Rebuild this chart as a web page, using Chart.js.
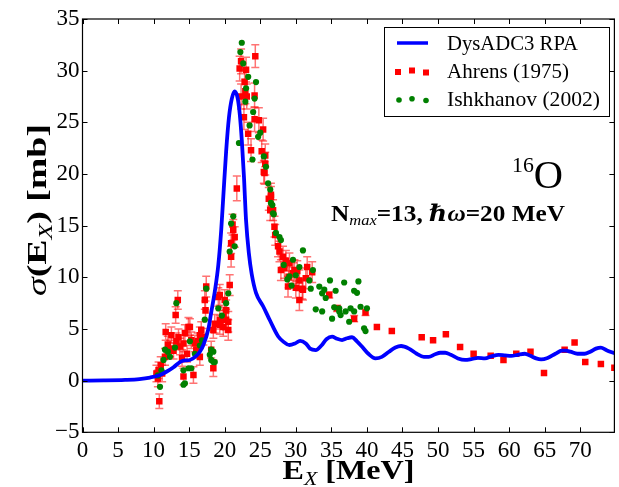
<!DOCTYPE html>
<html>
<head>
<meta charset="utf-8">
<script src="https://cdn.jsdelivr.net/npm/chart.js@4.4.1/dist/chart.umd.min.js"></script>
<style>
  html, body { margin: 0; padding: 0; background: #fff; }
  canvas { display: block; }
</style>
</head>
<body>
<canvas id="chart" width="619" height="487"></canvas>
<script>
// DysADC3 RPA response (E in MeV, sigma in mb)
const rpaE = [0, 3, 6, 8, 9.5, 10.9, 11.8, 12.8, 13.7, 14.4, 15.1, 16.0, 16.5, 17.0, 17.7, 18.1, 18.6, 19.1, 19.5, 19.8,
  20.2, 20.6, 21.0, 21.4, 21.8, 22.1, 22.4, 22.7, 23.0, 23.4, 23.8, 24.4, 25.4, 26.1, 26.8, 27.5, 28.2, 29.1, 29.9, 30.6,
  31.4, 32.0, 32.8, 33.6, 34.3, 35.1, 35.8, 36.5, 37.2, 37.9, 38.6, 39.3, 40.2, 41.2, 42.1, 43.1, 44.0, 44.8, 45.9, 47.0,
  48.0, 48.7, 49.6, 50.3, 51.0, 51.8, 52.8, 53.8, 54.8, 55.6, 56.6, 57.5, 58.5, 59.4, 60.3, 61.2, 62.2, 63.0, 63.8, 64.5,
  65.4, 66.5, 67.4, 68.0, 68.6, 69.6, 70.6, 71.4, 72.2, 72.9, 73.7, 74.8];
const rpaSigma = [0, 0.02, 0.07, 0.15, 0.3, 0.55, 0.86, 1.3, 1.8, 1.95, 2.0, 2.4, 2.8, 3.45, 5.0, 6.6, 8.6, 11.2, 14.5, 17.8,
  22.2, 25.5, 27.3, 28.0, 27.4, 25.9, 23.3, 19.8, 15.5, 12.3, 10.3, 8.5, 7.2, 6.2, 5.2, 4.3, 3.8, 3.45, 3.6, 3.85,
  3.6, 3.1, 2.96, 3.4, 4.0, 4.25, 4.05, 3.93, 4.1, 4.2, 3.8, 3.3, 2.6, 2.16, 2.3, 2.8, 3.2, 3.35, 3.1, 2.6,
  2.3, 2.3, 2.55, 2.7, 2.7, 2.5, 2.15, 2.0, 2.1, 2.2, 2.16, 2.35, 2.5, 2.45, 2.4, 2.5, 2.6, 2.4, 2.15, 2.06,
  2.2, 2.6, 2.9, 2.9, 2.8, 2.6, 2.6, 2.8, 3.1, 3.2, 2.95, 2.64];

// Ahrens (1975): energy, cross section, error
const ahrensE = [10.4, 10.7, 10.8, 11.2, 10.6, 11.0, 11.6, 11.7, 12.0, 12.3, 12.5, 12.8, 13.1, 13.4, 13.2, 13.5, 13.7, 14.0,
  14.2, 14.2, 14.4, 14.7, 14.9, 15.1, 15.3, 15.6, 15.8, 16.0, 16.2, 16.5, 16.5, 16.7, 17.0, 17.2, 17.3, 17.4, 18.1, 18.4,
  18.4, 18.6, 19.1, 19.3, 19.3, 19.3, 19.8, 19.8, 20.0, 20.2, 20.2, 20.5, 20.5, 20.7,
  20.9, 20.9, 21.2, 21.4, 21.1, 21.7,
  22.1, 22.3, 23.0, 24.3, 22.8, 22.9, 23.1, 22.3, 24.2, 22.7, 24.2, 24.8, 25.4, 23.3, 23.7, 25.2, 25.7, 25.5, 25.7, 26.5,
  26.2, 26.4, 25.6,
  26.5, 26.8, 27.0, 27.1, 27.5, 27.7, 28.2, 27.9, 29.1, 29.6, 28.9, 30.5, 30.9, 31.6, 30.5, 29.8, 28.4, 31.4, 29.0, 30.0,
  28.6, 30.2, 31.0, 32.3,
  34.7, 35.8, 38.2, 39.8, 41.4, 43.5, 47.7, 49.3, 51.1, 53.1, 55.0, 57.4, 59.2, 61.0, 63.0, 64.9, 67.8, 69.2, 70.7, 72.9, 74.8];
const ahrensSigma = [0.7, 1.0, -2.0, 0.7, 0.2, 1.5, 2.3, 4.7, 3.5, 3.1, 4.4, 2.9, 6.35, 7.8, 3.8, 4.2, 3.3, 2.2,
  3.6, 0.4, 4.6, 2.6, 5.2, 5.2, 3.9, 0.54, 3.6, 3.0, 3.8, 4.4, 2.3, 4.9, 4.25, 7.8, 6.8, 9.1, 3.0, 1.2,
  4.9, 5.5, 8.1, 5.9, 8.3, 5.4, 5.2, 6.2, 7.8, 5.9, 6.8, 5.7, 4.9, 9.25,
  12.0, 13.3, 14.6, 13.9, 15.1, 18.6,
  30.2, 30.9, 30.1, 31.4, 28.9, 28.0, 27.5, 27.5, 27.6, 25.5, 25.3, 25.2, 24.3, 23.9, 22.3, 22.2, 21.8, 20.2, 21.0, 18.0,
  17.6, 16.5, 20.1,
  17.8, 16.5, 14.9, 14.1, 13.0, 12.5, 12.0, 10.7, 11.35, 10.4, 9.1, 9.7, 8.9, 11.0, 7.8, 10.7, 10.9, 9.9, 10.0, 9.0,
  11.6, 10.6, 8.8, 10.5,
  8.3, 7.0, 6.0, 6.6, 5.2, 4.8, 4.2, 3.9, 4.5, 3.25, 2.6, 2.4, 2.0, 2.6, 2.8, 0.75, 3.0, 3.7, 1.8, 1.6, 1.25];
const ahrensErr = [0.8, 0.8, 0.7, 0.8, 0.8, 0.8, 0.8, 0.8, 0.8, 0.8, 0.8, 0.8, 0.8, 0.9, 0.8, 0.8, 0.8, 0.8,
  0.8, 0.8, 0.8, 0.8, 0.9, 0.8, 0.8, 0.8, 0.8, 0.8, 0.8, 0.8, 0.8, 0.8, 0.8, 0.9, 0.9, 1.0, 0.8, 0.8,
  0.8, 0.9, 0.9, 0.9, 1.0, 0.9, 0.9, 0.9, 1.0, 1.0, 1.0, 1.0, 1.0, 1.0,
  1.0, 1.0, 1.0, 1.0, 1.0, 1.2,
  1.2, 1.2, 1.2, 1.1, 1.2, 1.2, 1.2, 1.2, 1.2, 1.2, 1.2, 1.2, 1.1, 1.1, 1.1, 1.1, 1.1, 1.1, 1.1, 1.1,
  1.1, 1.0, 1.1,
  1.0, 1.0, 1.0, 1.0, 1.0, 1.0, 1.0, 1.0, 1.0, 1.0, 1.0, 1.0, 1.0, 1.0, 1.0, 1.0, 1.0, 1.0, 1.0, 1.0,
  1.0, 1.0, 1.0, 1.0,
  0.3, 0.3, 0.3, 0.3, 0, 0, 0, 0, 0, 0, 0, 0, 0, 0, 0, 0, 0, 0, 0, 0, 0];

// Ishkhanov (2002)
const ishkE = [10.6, 10.9, 11.1, 11.4, 11.6, 12.0, 12.3, 13.0, 13.2, 14.2, 14.2, 14.4, 14.9, 15.1, 15.3, 15.8, 16.5, 16.8,
  17.2, 17.4, 17.9, 18.1, 18.1, 18.4, 18.4, 18.6, 19.1, 19.6, 20.2, 20.5,
  20.7, 20.9, 21.2, 21.4, 22.0,
  22.4, 22.2, 22.6, 23.3, 24.4, 24.2, 22.9, 23.5, 24.7, 23.9, 25.5, 25.8, 26.1, 26.4, 26.7, 26.9, 24.0, 23.0, 25.0,
  26.5, 26.8, 27.2, 27.7, 27.9, 29.6, 30.5, 29.1, 28.3, 28.8, 30.0, 29.4, 31.0, 32.4, 32.1, 31.9,
  33.3, 34.0, 33.7, 34.2, 34.8, 35.6, 36.8, 38.2, 38.8, 38.6, 32.8, 33.7, 35.1, 35.4, 36.3, 37.0, 37.7, 37.5, 39.1, 40.0,
  39.6, 39.8, 36.1, 38.2, 36.1];
const ishkSigma = [0.5, -0.6, 1.0, 2.0, 3.0, 2.8, 2.3, 3.2, 7.5, 1.0, -0.4, -0.26, 1.2, 3.8, 1.2, 2.6, 3.4, 3.9,
  5.9, 8.9, 2.5, 2.0, 3.0, 1.8, 2.8, 1.8, 7.0, 6.3, 7.5, 8.45,
  12.5, 15.2, 15.9, 13.0, 23.0,
  32.7, 31.8, 30.7, 29.4, 28.9, 27.3, 27.0, 24.7, 23.6, 21.4, 21.7, 20.7, 19.1, 18.5, 17.0, 16.1, 26.0, 28.3, 24.0,
  17.2, 16.2, 14.3, 13.9, 13.6, 11.7, 11.0, 10.1, 11.2, 9.8, 10.2, 9.2, 12.6, 10.7, 8.9, 9.7,
  9.1, 8.8, 8.45, 8.0, 9.7, 8.7, 9.5, 8.7, 9.6, 8.5, 6.9, 6.7, 6.0, 7.1, 6.35, 6.7, 7.0, 5.7, 7.15, 7.0,
  5.06, 4.8, 7.0, 6.7, 6.7];

const xTicks = [0, 5, 10, 15, 20, 25, 30, 35, 40, 45, 50, 55, 60, 65, 70];
const yTicks = [-5, 0, 5, 10, 15, 20, 25, 30, 35];

const SERIF = '"Liberation Serif", "DejaVu Serif", serif';

const toXY = (xs, ys) => xs.map((x, i) => ({ x: x, y: ys[i] }));

// draw a run of text pieces with different fonts / offsets, optionally stretched to a width
function richText(ctx, x, y, parts, align, targetW) {
    let total = 0;
    parts.forEach(p => { ctx.font = p.font; p.w = ctx.measureText(p.t).width; total += p.w; });
    const sx = targetW ? targetW / total : 1;
    const w = total * sx;
    const start = align === 'center' ? x - w / 2 : (align === 'right' ? x - w : x);
    ctx.save();
    ctx.translate(start, y);
    ctx.scale(sx, 1);
    let cx = 0;
    parts.forEach(p => {
        ctx.font = p.font;
        ctx.fillText(p.t, cx, p.dy || 0);
        cx += p.w;
    });
    ctx.restore();
}

const errorBars = {
    id: 'errorBars',
    beforeDatasetsDraw(chart) {
        const { ctx, chartArea, scales } = chart;
        ctx.save();
        ctx.beginPath();
        ctx.rect(chartArea.left, chartArea.top, chartArea.right - chartArea.left, chartArea.bottom - chartArea.top);
        ctx.clip();
        ctx.strokeStyle = 'rgba(255, 0, 0, 0.55)';
        ctx.lineWidth = 1.5;
        ahrensE.forEach((e, i) => {
            const err = ahrensErr[i];
            if (!err) return;
            const px = scales.x.getPixelForValue(e);
            const y1 = scales.y.getPixelForValue(ahrensSigma[i] - err);
            const y2 = scales.y.getPixelForValue(ahrensSigma[i] + err);
            ctx.beginPath();
            ctx.moveTo(px, y1); ctx.lineTo(px, y2);
            ctx.moveTo(px - 4, y1); ctx.lineTo(px + 4, y1);
            ctx.moveTo(px - 4, y2); ctx.lineTo(px + 4, y2);
            ctx.stroke();
        });
        ctx.restore();
    }
};

const frameAndText = {
    id: 'frameAndText',
    afterDraw(chart) {
        const { ctx, chartArea: a, scales } = chart;
        ctx.save();
        // frame
        ctx.strokeStyle = '#000';
        ctx.lineWidth = 1.2;
        ctx.strokeRect(a.left, a.top, a.right - a.left, a.bottom - a.top);
        // inward ticks on all four sides
        ctx.lineWidth = 1;
        ctx.beginPath();
        xTicks.forEach(v => {
            const px = Math.round(scales.x.getPixelForValue(v)) + 0.5;
            ctx.moveTo(px, a.bottom); ctx.lineTo(px, a.bottom - 5);
            ctx.moveTo(px, a.top); ctx.lineTo(px, a.top + 5);
        });
        yTicks.forEach(v => {
            const py = Math.round(scales.y.getPixelForValue(v)) + 0.5;
            ctx.moveTo(a.left, py); ctx.lineTo(a.left + 5, py);
            ctx.moveTo(a.right, py); ctx.lineTo(a.right - 5, py);
        });
        ctx.stroke();

        ctx.fillStyle = '#000';
        ctx.textBaseline = 'alphabetic';

        // x axis title
        richText(ctx, (a.left + a.right) / 2, 479, [
            { t: 'E', font: 'bold 28px ' + SERIF },
            { t: 'X', font: 'italic 19px ' + SERIF, dy: 6 },
            { t: ' [MeV]', font: 'bold 28px ' + SERIF }
        ], 'center', 132);

        // y axis title
        ctx.save();
        ctx.translate(46, 210);
        ctx.rotate(-Math.PI / 2);
        richText(ctx, 0, 0, [
            { t: 'σ', font: 'italic 28px ' + SERIF },
            { t: '(E', font: 'bold 28px ' + SERIF },
            { t: 'X', font: 'italic 19px ' + SERIF, dy: 6 },
            { t: ') [mb]', font: 'bold 28px ' + SERIF }
        ], 'center', 172);
        ctx.restore();

        // nucleus label
        richText(ctx, 537.5, 188, [
            { t: '16', font: '21px ' + SERIF, dy: -16 },
            { t: 'O', font: '39px ' + SERIF }
        ], 'center', 51);

        // model parameters
        richText(ctx, 448, 221, [
            { t: 'N', font: 'bold 23px ' + SERIF },
            { t: 'max', font: 'italic 15px ' + SERIF, dy: 4 },
            { t: '=13, ', font: 'bold 23px ' + SERIF },
            { t: 'ℏω', font: 'italic bold 23px ' + SERIF },
            { t: '=20 MeV', font: 'bold 23px ' + SERIF }
        ], 'center', 234);

        // legend
        const lx = 384.5, ly = 27.5, lw = 225, lh = 89;
        ctx.fillStyle = '#fff';
        ctx.fillRect(lx, ly, lw, lh);
        ctx.strokeStyle = '#000';
        ctx.lineWidth = 1;
        ctx.strokeRect(lx, ly, lw, lh);

        ctx.strokeStyle = '#0000ff';
        ctx.lineWidth = 3.5;
        ctx.beginPath();
        ctx.moveTo(397, 43); ctx.lineTo(428, 43);
        ctx.stroke();

        ctx.fillStyle = '#ff0000';
        [[398, 72], [412, 70.5], [426, 72.5]].forEach(([x, y]) => ctx.fillRect(x - 3, y - 3, 6, 6));

        ctx.fillStyle = '#008000';
        [[399, 100], [412, 98.7], [426, 100.5]].forEach(([x, y]) => {
            ctx.beginPath(); ctx.arc(x, y, 2.8, 0, Math.PI * 2); ctx.fill();
        });

        ctx.fillStyle = '#000';
        ctx.textBaseline = 'middle';
        const legendFont = '21px ' + SERIF;
        richText(ctx, 447, 44, [{ t: 'DysADC3 RPA', font: legendFont }], 'left', 131);
        richText(ctx, 447, 72, [{ t: 'Ahrens (1975)', font: legendFont }], 'left', 122);
        richText(ctx, 447, 100, [{ t: 'Ishkhanov (2002)', font: legendFont }], 'left', 153);
        ctx.restore();
    }
};

const ctx = document.getElementById('chart').getContext('2d');
new Chart(ctx, {
    type: 'scatter',
    data: {
        datasets: [
            {
                label: 'DysADC3 RPA',
                type: 'line',
                data: toXY(rpaE, rpaSigma),
                borderColor: '#0000ff',
                borderWidth: 3.8,
                pointRadius: 0,
                cubicInterpolationMode: 'monotone',
                fill: false,
                order: 0
            },
            {
                label: 'Ishkhanov (2002)',
                data: toXY(ishkE, ishkSigma),
                backgroundColor: '#008000',
                borderWidth: 0,
                pointRadius: 3.1,
                pointStyle: 'circle',
                order: 1
            },
            {
                label: 'Ahrens (1975)',
                data: toXY(ahrensE, ahrensSigma),
                backgroundColor: '#ff0000',
                borderWidth: 0,
                pointRadius: 4.6,
                pointStyle: 'rect',
                order: 2
            }
        ]
    },
    options: {
        responsive: false,
        animation: false,
        devicePixelRatio: 1,
        layout: { padding: { top: 19, right: 2, left: 0, bottom: 0 } },
        plugins: {
            legend: { display: false },
            tooltip: { enabled: false }
        },
        scales: {
            x: {
                type: 'linear',
                min: 0,
                max: 74.8,
                grid: { display: false, drawTicks: false },
                border: { display: false },
                afterFit: s => { s.height = 54.7; },
                afterBuildTicks: s => { s.ticks = xTicks.map(v => ({ value: v })); },
                ticks: {
                    color: '#000',
                    padding: 5,
                    maxRotation: 0,
                    autoSkip: false,
                    font: { family: SERIF, size: 23 }
                }
            },
            y: {
                type: 'linear',
                min: -5,
                max: 35,
                grid: { display: false, drawTicks: false },
                border: { display: false },
                afterFit: s => { s.width = 82.5; },
                afterBuildTicks: s => { s.ticks = yTicks.map(v => ({ value: v })); },
                ticks: {
                    color: '#000',
                    padding: 3,
                    autoSkip: false,
                    font: { family: SERIF, size: 23 },
                    callback: v => String(v).replace('-', '\u2212')
                }
            }
        }
    },
    plugins: [errorBars, frameAndText]
});
</script>
</body>
</html>
